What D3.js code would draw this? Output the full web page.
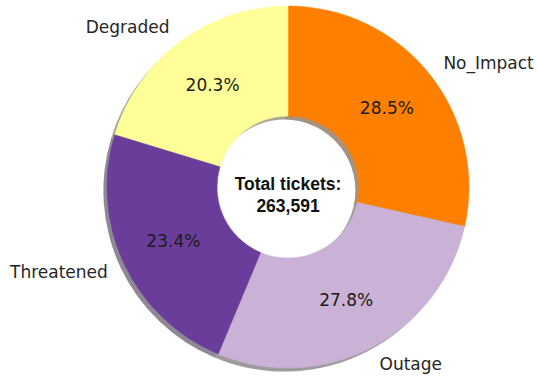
<!DOCTYPE html>
<html lang="en">
<head>
  <meta charset="UTF-8">
  <script src="https://cdnjs.cloudflare.com/ajax/libs/d3/7.8.5/d3.min.js"></script>
  <title>Total tickets donut</title>
  <style>
    body { margin:0; background:#fff; }
    svg { display:block; }
  </style>
</head>
<body>
  <div id="chart"></div>
  <script>
    // ticket share by impact, clockwise from 12 o'clock
    var labels = ["No_Impact", "Outage", "Threatened", "Degraded"]
    var shares = [28.5, 27.8, 23.4, 20.3]
    var colors = ["#ff7f00", "#cab2d6", "#6a3d9a", "#ffff99"]
    var totalTickets = 263591

    var width = 537, height = 377
    var cx = 288, cy = 187
    var outerR = 181, innerR = 71

    var svg = d3.select("#chart").append("svg")
                .attr("width", width)
                .attr("height", height)

    var pie = d3.pie().sort(null).value(d => d.value)
    var arcs = pie(labels.map((l, i) => ({ label:l, value:shares[i], color:colors[i] })))

    var arc = d3.arc().innerRadius(innerR).outerRadius(outerR)

    // shadow like matplotlib: colour * 0.3, alpha 0.5, offset left/down
    svg.append("g")
       .attr("transform", `translate(${cx - 3.6},${cy + 3.6})`)
       .selectAll("path")
       .data(arcs)
       .join("path")
       .attr("d", arc)
       .attr("fill", d => {
         var c = d3.rgb(d.data.color)
         return d3.rgb(c.r * 0.3, c.g * 0.3, c.b * 0.3)
       })
       .attr("fill-opacity", 0.5)

    var g = svg.append("g").attr("transform", `translate(${cx},${cy})`)

    g.selectAll("path.wedge")
     .data(arcs)
     .join("path")
     .attr("class", "wedge")
     .attr("d", arc)
     .attr("fill", d => d.data.color)
     .attr("stroke", d => d.data.color)
     .attr("stroke-width", 0.5)

    function dir(d) {
      var a = (d.startAngle + d.endAngle) / 2
      return [Math.sin(a), -Math.cos(a)]
    }

    // percentages
    g.selectAll("text.pct")
     .data(arcs)
     .join("text")
     .attr("class", "pct")
     .attr("x", d => dir(d)[0] * outerR * 0.7)
     .attr("y", d => dir(d)[1] * outerR * 0.7)
     .attr("text-anchor", "middle")
     .attr("dominant-baseline", "central")
     .style("font-family", "DejaVu Sans")
     .style("font-size", "17px")
     .style("fill", "#1a1a1a")
     .text(d => d.data.value.toFixed(1) + "%")

    // category labels
    g.selectAll("text.lbl")
     .data(arcs)
     .join("text")
     .attr("class", "lbl")
     .attr("x", d => dir(d)[0] * outerR * 1.1)
     .attr("y", d => dir(d)[1] * outerR * 1.1)
     .attr("text-anchor", d => dir(d)[0] > 0 ? "start" : "end")
     .attr("dominant-baseline", "central")
     .style("font-family", "DejaVu Sans")
     .style("font-size", "17px")
     .style("fill", "#262626")
     .text(d => d.data.label)

    // centre text
    var center = g.append("text")
                  .attr("text-anchor", "middle")
                  .style("font-family", "Liberation Sans, Arial, sans-serif")
                  .style("font-weight", "bold")
                  .style("font-size", "17.5px")
                  .style("fill", "#111")
    center.append("tspan").attr("x", 0).attr("y", 3).text("Total tickets:")
    center.append("tspan").attr("x", 0).attr("y", 25).text(d3.format(",")(totalTickets))
  </script>
</body>
</html>
